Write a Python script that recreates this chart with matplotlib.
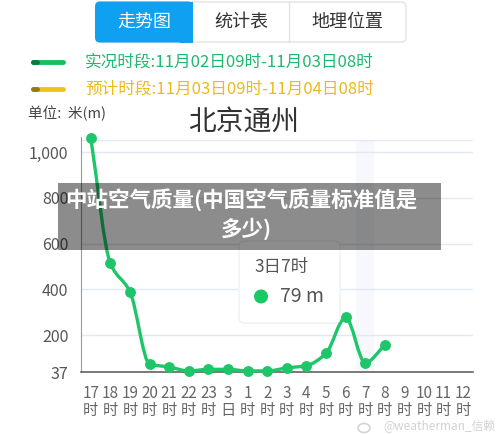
import matplotlib
matplotlib.use('Agg')
import numpy as np
import matplotlib.pyplot as plt
from matplotlib.path import Path
from matplotlib.patches import PathPatch, FancyBboxPatch, Rectangle, Circle, Ellipse

plt.rcParams['font.family'] = ['Noto Sans CJK SC', 'DejaVu Sans']

# data
hours = ['17', '18', '19', '20', '21', '22', '23', '3', '1', '2', '3', '4',
         '5', '6', '7', '8', '9', '10', '11', '12']
units = ['时', '时', '时', '时', '时', '时', '时', '日', '时', '时', '时', '时',
         '时', '时', '时', '时', '时', '时', '时', '时']
values = [1061, 513, 389, 73, 60, 43, 50, 50, 43, 43, 56, 66, 120, 277, 79, 155]
yticks = [37, 200, 400, 600, 800, 1000]
ytick_labels = ['37', '200', '400', '600', '800', '1,000']
ymax = 1053
sel = 14  # 3日7时
tabs = ['走势图', '统计表', '地理位置']
legend_obs = '实况时段:11月02日09时-11月03日08时'
legend_fc = '预计时段:11月03日09时-11月04日08时'
title = '北京通州'
unit_text = '单位:  米(m)'
banner = ['中站空气质量(中国空气质量标准值是', '多少)']

GREEN = '#1ec66a'
W, H = 500, 434


def smooth_path(x, y):
    # monotone cubic bezier through the points
    x = np.asarray(x, float)
    y = np.asarray(y, float)
    d = np.diff(y) / np.diff(x)
    m = np.zeros_like(y)
    m[0], m[-1] = d[0], d[-1]
    for i in range(1, len(y) - 1):
        if d[i - 1] * d[i] > 0:
            m[i] = 2.0 / (1.0 / d[i - 1] + 1.0 / d[i])
    verts = [(x[0], y[0])]
    codes = [Path.MOVETO]
    for i in range(len(x) - 1):
        h = (x[i + 1] - x[i]) / 3.0
        verts += [(x[i] + h, y[i] + m[i] * h),
                  (x[i + 1] - h, y[i + 1] - m[i + 1] * h),
                  (x[i + 1], y[i + 1])]
        codes += [Path.CURVE4] * 3
    return Path(verts, codes)


fig = plt.figure(figsize=(W / 100, H / 100), dpi=100)
fig.patch.set_facecolor('white')

# main plot
ax = fig.add_axes([81 / W, 1 - 372.3 / H, 392 / W, 232.3 / H])
ax.set_xlim(-0.5, 19.5)
ax.set_ylim(37, ymax)
ax.axvspan(sel - 0.47, sel + 0.47, color='#f6f8fc', zorder=0, lw=0)
for v in yticks[1:] + [ymax]:
    ax.axhline(v, color='#e2e8f3', lw=1, zorder=1)
xs = np.arange(len(values))
ax.add_patch(PathPatch(smooth_path(xs, values), fill=False, edgecolor=GREEN,
                       lw=2.4, zorder=3, clip_on=False, capstyle='round'))
ax.plot(xs, values, 'o', color=GREEN, ms=6.8, zorder=4, clip_on=False)

ax.set_xticks(range(len(hours)))
ax.set_xticklabels([h + '\n' + u for h, u in zip(hours, units)],
                   fontsize=11, color='#666666', linespacing=1.05)
ax.set_yticks(yticks)
ax.set_yticklabels(ytick_labels, fontsize=11.5, color='#555555')
ax.tick_params(axis='x', length=0, pad=9)
ax.tick_params(axis='y', length=0, pad=9)
for s in ['top', 'right']:
    ax.spines[s].set_visible(False)
ax.spines['left'].set_color('#9a9a9a')
ax.spines['left'].set_bounds(37, ymax + 12)
ax.spines['bottom'].set_color('#555555')
ax.spines['bottom'].set_linewidth(1.1)

# overlay in pixel coordinates
ov = fig.add_axes([0, 0, 1, 1], zorder=10)
ov.set_xlim(0, W)
ov.set_ylim(H, 0)
ov.axis('off')
ov.patch.set_alpha(0)

# tabs
ov.add_patch(FancyBboxPatch((96, 2), 310, 40, boxstyle='round,pad=0,rounding_size=5',
                            fc='white', ec='#e3e3e3', lw=1))
ov.add_patch(FancyBboxPatch((95, 1.5), 98, 41, boxstyle='round,pad=0,rounding_size=5',
                            fc='#0fa0f2', ec='none'))
ov.add_patch(Rectangle((180, 1.5), 13, 41, fc='#0fa0f2', ec='none'))
ov.plot([289, 289], [2, 42], color='#e3e3e3', lw=1)
for cx, t, c in zip([144, 241, 347], tabs, ['white', '#333333', '#333333']):
    ov.text(cx, 22, t, fontsize=13, color=c, ha='center', va='center')

# legend
ov.plot([33, 63], [62, 62], color='#14c15e', lw=3.5, solid_capstyle='round')
ov.plot([33, 37], [62, 62], color='#0c7a3c', lw=3.5, solid_capstyle='round')
ov.plot([33, 63], [89, 89], color='#f3c21a', lw=3.5, solid_capstyle='round')
ov.plot([33, 37], [89, 89], color='#9a7a10', lw=3.5, solid_capstyle='round')
ov.text(85, 62, legend_obs, fontsize=12, color='#1db96e', va='center')
ov.text(85, 89, legend_fc, fontsize=12, color='#ebba1c', va='center')

ov.text(28, 113, unit_text, fontsize=10.5, color='#444444', va='center')
ov.text(244, 122, title, fontsize=20, color='#333333', ha='center', va='center')

# tooltip
ov.add_patch(FancyBboxPatch((242, 244), 98, 80, boxstyle='round,pad=0,rounding_size=5',
                            fc='#000000', ec='none', alpha=0.05))
ov.add_patch(FancyBboxPatch((239, 241), 101, 82, boxstyle='round,pad=0,rounding_size=5',
                            fc='white', ec='#eeeeee', lw=0.8))
ov.text(254, 267, '3日7时', fontsize=12.5, color='#555555', va='center')
ov.add_patch(Circle((261, 296.5), 7, fc='#18c964', ec='none'))
ov.text(280, 296.5, '79 m', fontsize=14, color='#555555', va='center')

# banner
ov.add_patch(Rectangle((58, 183), 383, 67, fc='#000000', ec='none', alpha=0.45))
ov.text(241, 200, banner[0], fontsize=15.5, color='white', fontweight='bold',
        ha='center', va='center')
ov.text(246, 229, banner[1], fontsize=15.5, color='white', fontweight='bold',
        ha='center', va='center')

# watermark
ov.add_patch(Ellipse((364, 428), 12, 9, fc='none', ec='#d5d5d5', lw=1.2))
ov.text(496, 427, '@weatherman_信赖', fontsize=8.5, color='#d2d2d2',
        va='center', ha='right')

fig.savefig('out.png', dpi=100)
